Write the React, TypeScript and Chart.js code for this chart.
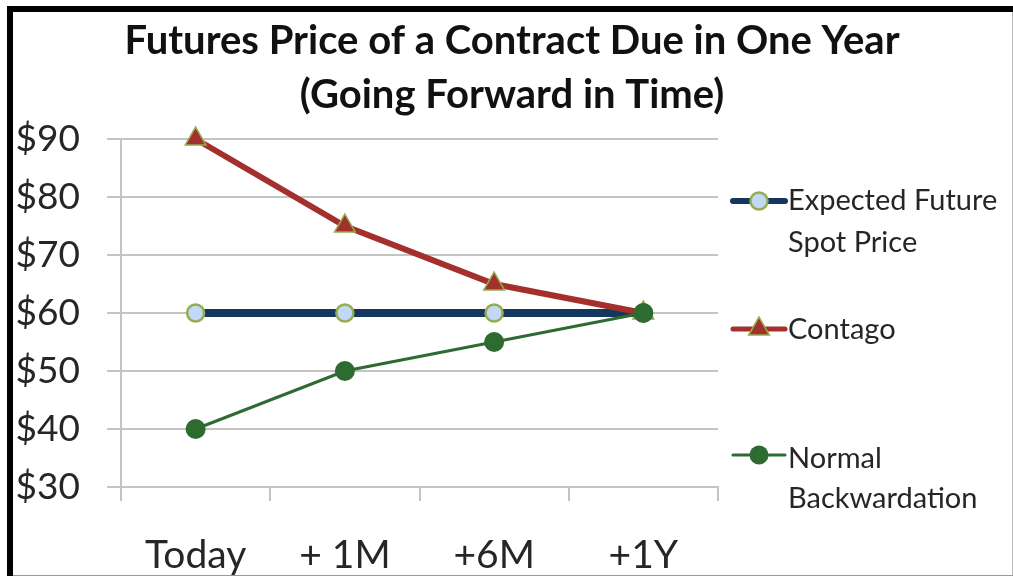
import React, { useEffect, useRef } from "react";
import { Chart, registerables } from "chart.js";

Chart.register(...registerables);

const categories = ["Today", "+ 1M", "+6M", "+1Y"];
const expectedSpot = [60, 60, 60, 60];
const contago = [90, 75, 65, 60];
const normalBackwardation = [40, 50, 55, 60];
const yTicks = { min: 30, max: 90, step: 10 };
const titleLines = ["Futures Price of a Contract Due in One Year", "(Going Forward in Time)"];
const legendLabels = [
  ["Expected Future", "Spot Price"],
  ["Contago"],
  ["Normal", "Backwardation"],
];

const FONT = "Lato, 'Open Sans', sans-serif";
const TEXT = "#262626";
const GRID = "#c4c4c4";

const NAVY = "#15365e";
const RED = "#a3302c";
const GREEN = "#2e6b31";
const OLIVE = "#93ad4f";
const LIGHTBLUE = "#c3d8f4";

function drawMarker(ctx: CanvasRenderingContext2D, kind: number, x: number, y: number) {
  ctx.save();
  if (kind === 0) {
    ctx.beginPath();
    ctx.arc(x, y, 8.5, 0, Math.PI * 2);
    ctx.fillStyle = LIGHTBLUE;
    ctx.fill();
    ctx.lineWidth = 2.5;
    ctx.strokeStyle = OLIVE;
    ctx.stroke();
  } else if (kind === 1) {
    const r = 12;
    ctx.beginPath();
    for (let i = 0; i < 3; i++) {
      const a = (i * 2 * Math.PI) / 3;
      const px = x + Math.sin(a) * r;
      const py = y - Math.cos(a) * r;
      if (i === 0) ctx.moveTo(px, py);
      else ctx.lineTo(px, py);
    }
    ctx.closePath();
    ctx.fillStyle = RED;
    ctx.fill();
    ctx.lineWidth = 1.5;
    ctx.strokeStyle = OLIVE;
    ctx.stroke();
  } else {
    ctx.beginPath();
    ctx.arc(x, y, 9.5, 0, Math.PI * 2);
    ctx.fillStyle = GREEN;
    ctx.fill();
  }
  ctx.restore();
}

const overlayPlugin = {
  id: "overlay",
  afterDraw(chart: any) {
    const ctx: CanvasRenderingContext2D = chart.ctx;
    ctx.save();
    // Title
    ctx.fillStyle = "#111";
    ctx.font = `bold 40px ${FONT}`;
    ctx.textAlign = "center";
    ctx.textBaseline = "alphabetic";
    ctx.fillText(titleLines[0], 512, 54);
    ctx.fillText(titleLines[1], 512, 108);

    // Legend
    const colors = [NAVY, RED, GREEN];
    const widths = [6, 5, 3];
    const markerY = [201, 329, 455];
    const baselines = [[210, 252], [339], [468, 508]];
    for (let i = 0; i < 3; i++) {
      ctx.beginPath();
      ctx.moveTo(733, markerY[i]);
      ctx.lineTo(785, markerY[i]);
      ctx.lineWidth = widths[i];
      ctx.strokeStyle = colors[i];
      ctx.lineCap = "round";
      ctx.stroke();
      drawMarker(ctx, i, 759, markerY[i]);
      ctx.fillStyle = TEXT;
      ctx.font = `29px ${FONT}`;
      ctx.textAlign = "left";
      ctx.textBaseline = "alphabetic";
      legendLabels[i].forEach((t, j) => ctx.fillText(t, 788, baselines[i][j]));
    }
    ctx.restore();
  },
};

export default function App() {
  const ref = useRef<HTMLCanvasElement | null>(null);

  useEffect(() => {
    if (!ref.current) return;
    const chart = new Chart(ref.current, {
      type: "line",
      data: {
        labels: categories,
        datasets: [
          {
            label: legendLabels[0].join(" "),
            data: expectedSpot,
            borderColor: NAVY,
            borderWidth: 8,
            pointStyle: "circle",
            pointRadius: 8.5,
            pointBorderWidth: 2.5,
            pointBackgroundColor: LIGHTBLUE,
            pointBorderColor: OLIVE,
            clip: false,
            order: 3,
          },
          {
            label: legendLabels[1].join(" "),
            data: contago,
            borderColor: RED,
            borderWidth: 6,
            pointStyle: "triangle",
            pointRadius: 12,
            pointBorderWidth: 1.5,
            pointBackgroundColor: RED,
            pointBorderColor: OLIVE,
            clip: false,
            order: 2,
          },
          {
            label: legendLabels[2].join(" "),
            data: normalBackwardation,
            borderColor: GREEN,
            borderWidth: 3,
            pointStyle: "circle",
            pointRadius: 10,
            pointBorderWidth: 0,
            pointBackgroundColor: GREEN,
            pointBorderColor: GREEN,
            clip: false,
            order: 1,
          },
        ],
      },
      options: {
        animation: false,
        responsive: false,
        maintainAspectRatio: false,
        layout: { padding: { left: 8, right: 295, top: 139, bottom: 0 } },
        plugins: {
          legend: { display: false },
          title: { display: false },
          tooltip: { enabled: false },
        },
        scales: {
          x: {
            offset: true,
            afterFit: (s: any) => {
              s.height = 89;
            },
            grid: {
              display: true,
              drawOnChartArea: false,
              drawTicks: true,
              tickLength: 14,
              color: GRID,
              lineWidth: 2,
              offset: true,
            },
            border: { display: true, color: GRID, width: 2 },
            ticks: {
              color: TEXT,
              font: { family: FONT, size: 39 },
              padding: 31,
              maxRotation: 0,
              autoSkip: false,
            },
          },
          y: {
            min: yTicks.min,
            max: yTicks.max,
            afterFit: (s: any) => {
              s.width = 113;
            },
            grid: {
              color: GRID,
              lineWidth: 2,
              tickLength: 14,
              drawTicks: true,
            },
            border: { display: true, color: GRID, width: 2 },
            ticks: {
              stepSize: yTicks.step,
              color: TEXT,
              font: { family: FONT, size: 37 },
              padding: 27,
              callback: (v: any) => "$" + v,
            },
          },
        },
      },
      plugins: [overlayPlugin],
    });
    return () => chart.destroy();
  }, []);

  return (
    <div style={{ position: "absolute", left: 0, top: 0, width: 1013, height: 576, background: "#fff", overflow: "hidden" }}>
      <canvas ref={ref} width={1013} height={576} style={{ position: "absolute", left: 0, top: 0 }} />
      <div style={{ position: "absolute", left: 7, top: 6, width: 1006, height: 6, background: "#000" }} />
      <div style={{ position: "absolute", left: 7, top: 6, width: 6, height: 570, background: "#000" }} />
      <div style={{ position: "absolute", left: 1012, top: 12, width: 1, height: 564, background: "#bbb" }} />
      <div style={{ position: "absolute", left: 13, top: 575, width: 1000, height: 1, background: "#999" }} />
    </div>
  );
}
